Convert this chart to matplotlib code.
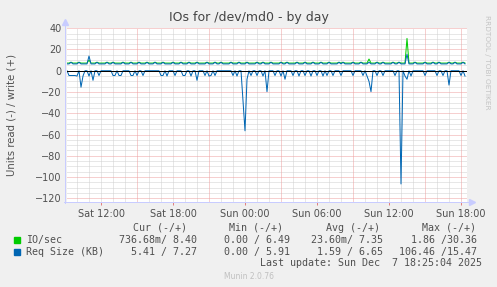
import numpy as np
import matplotlib
matplotlib.use('Agg')
import matplotlib.pyplot as plt

# time is counted in hours from Sat 00:00, points every 10 minutes
start_h = 9 + 10 / 60
end_h = 42 + 25 / 60

tick_hours = [12, 18, 24, 30, 36, 42]
tick_labels = ['Sat 12:00', 'Sat 18:00', 'Sun 00:00', 'Sun 06:00', 'Sun 12:00', 'Sun 18:00']
major_hours = [15, 21, 27, 33, 39, 42]

# write side (+): resting levels, the regular small bumps and the spikes
write_io_level = 7.2
write_kb_level = 6.4
bump_io = 8.0
bump_kb = 7.9
bump_hours = [9.50, 10.17, 11.67, 12.42, 13.08, 13.75, 14.50, 15.17, 15.83, 16.58,
              17.25, 17.92, 18.67, 19.33, 20.00, 20.75, 21.42, 22.08, 22.83, 23.50,
              24.17, 24.92, 25.58, 26.17, 27.00, 27.58, 28.25, 28.92, 29.67, 30.33,
              31.00, 31.75, 32.25, 33.00, 33.67, 35.08, 35.58, 36.33, 36.83, 38.25,
              38.92, 39.67, 40.17, 40.92, 41.58, 42.17]
spike_hours = [10.92, 34.33, 37.58]
spike_io = [10.0, 11.0, 30.4]
spike_kb = [13.8, 8.0, 15.5]

# read side (-): request size dips (KB), IO/sec read stays at ~0
dip_hours = [9.33, 9.50, 9.67, 9.83, 10.00,
             10.25, 10.50, 10.92, 11.33, 11.83, 12.92, 13.17, 13.42, 13.67, 14.42,
             14.67, 15.00, 15.50, 16.92, 17.17, 17.50, 18.17, 18.75, 19.00, 19.58,
             20.00, 20.67, 20.92, 21.25, 21.58, 23.08, 23.33, 23.83, 24.08, 24.25,
             24.58, 25.00, 25.42, 25.83, 26.50, 27.08, 27.25, 27.92, 28.42, 29.00,
             29.42, 30.00, 30.42, 30.83, 31.33, 32.08, 33.00, 33.75, 34.17, 34.33,
             34.50, 35.08, 35.50, 36.50, 37.08, 37.33, 37.58, 37.83, 39.00, 40.00,
             40.50, 40.92, 42.08, 42.33]
dip_kb = [-4.5, -4.5, -4.5, -4.5, -5.0,
          -15.5, -5.0, -5.0, -9.0, -4.5, -4.5, -4.5, -4.5, -4.5, -4.5,
          -4.5, -4.5, -4.5, -4.5, -4.5, -5.0, -4.5, -4.5, -4.5, -5.0,
          -9.0, -4.5, -5.0, -4.5, -4.5, -4.5, -5.0, -27.5, -56.5, -8.0,
          -4.5, -4.5, -5.0, -19.7, -4.5, -5.0, -8.0, -4.5, -5.0, -4.5,
          -5.0, -4.5, -5.0, -4.5, -4.5, -4.5, -4.5, -4.5, -5.0, -10.0,
          -19.7, -4.5, -4.5, -4.5, -106.5, -5.0, -8.0, -5.0, -4.5, -4.5,
          -4.5, -13.5, -4.5, -5.0]

GREEN = '#00cc00'
BLUE = '#0066b3'
TXT = '#505050'

t = np.arange(start_h, end_h + 1e-6, 10 / 60)


def idx(h):
    return min(int(round((h - start_h) * 6)), len(t) - 1)


w_io = np.full(len(t), write_io_level)
w_kb = np.full(len(t), write_kb_level)
for h in bump_hours:
    w_io[idx(h)] = bump_io
    w_kb[idx(h)] = bump_kb
for h, a, b in zip(spike_hours, spike_io, spike_kb):
    w_io[idx(h)] = a
    w_kb[idx(h)] = b
r_io = np.zeros(len(t))
r_kb = np.zeros(len(t))
for h, v in zip(dip_hours, dip_kb):
    r_kb[idx(h)] = min(r_kb[idx(h)], v)

W, H = 497, 287
fig = plt.figure(figsize=(W / 100, H / 100), dpi=100, facecolor='#f0f0f0')
ylo, yhi = -123, 40
ax = fig.add_axes([67 / W, 1 - 201.5 / H, 400 / W, 173.3 / H])
ax.set_facecolor('white')
ax.set_xlim(start_h, end_h + 1 / 12)
ax.set_ylim(ylo, yhi)
for s in ax.spines.values():
    s.set_visible(False)

px = 0.72
dot = (0, (1, 1))
# grid
for y in range(-120, 41, 5):
    if y % 20:
        ax.axhline(y, color='#d0d0d0', lw=px, ls=dot, zorder=1)
for h in range(10, 43):
    if h not in major_hours:
        ax.axvline(h, color='#d0d0d0', lw=px, ls=dot, zorder=1)
for y in range(-120, 41, 20):
    ax.axhline(y, color='#eea0a0', lw=px, ls=dot, zorder=1)
for h in major_hours:
    ax.axvline(h, color='#eea0a0', lw=px, ls=dot, zorder=1)

ax.plot(t, w_io, color=GREEN, lw=px, zorder=3)
ax.plot(t, r_io, color=GREEN, lw=px, zorder=3)
ax.plot(t, w_kb, color=BLUE, lw=px, zorder=4)
ax.plot(t, r_kb, color=BLUE, lw=px, zorder=4)
ax.axhline(0, color='black', lw=px, zorder=5)

# axes lines with arrows
axc = '#c8ccff'
ax.plot([-0.005, -0.005], [-0.01, 1.035], transform=ax.transAxes, color=axc, lw=px, clip_on=False)
ax.plot([-0.008, 1.013], [0, 0], transform=ax.transAxes, color=axc, lw=px, clip_on=False)
ax.plot([-0.005], [1.035], transform=ax.transAxes, marker='^', ms=4, color=axc, clip_on=False)
ax.plot([1.013], [0], transform=ax.transAxes, marker='>', ms=4, color=axc, clip_on=False)

ax.set_xticks(tick_hours)
ax.set_xticklabels(tick_labels)
ax.set_yticks(range(-120, 41, 20))
ax.tick_params(axis='both', labelsize=7, colors=TXT, length=2, width=px)
ax.tick_params(axis='x', pad=3.5, colors='#e08080', labelcolor=TXT)
ax.tick_params(axis='y', pad=4, length=0)
ax.set_ylabel('Units read (-) / write (+)', fontsize=7.3, color=TXT, labelpad=13)

fig.text(0.5, 1 - 18 / H, 'IOs for /dev/md0 - by day', ha='center', va='center',
         fontsize=9, color='#444444')
fig.text(487 / W, 1 - 15 / H, 'RRDTOOL / TOBI OETIKER', rotation=270, ha='center', va='top',
         fontsize=5.3, color='#c4c4c4')

mono = 'DejaVu Sans Mono'
fs = 7.2
heads = ['Cur (-/+)', 'Min (-/+)', 'Avg (-/+)', 'Max (-/+)']
head_x = [187, 283, 380, 476]
val_x = [197, 290, 383, 477]
rows = [('IO/sec', GREEN, ['736.68m/ 8.40', '0.00 / 6.49', '23.60m/ 7.35', '1.86 /30.36']),
        ('Req Size (KB)', BLUE, ['5.41 / 7.27', '0.00 / 5.91', '1.59 / 6.65', '106.46 /15.47'])]
for s, x in zip(heads, head_x):
    fig.text(x / W, 1 - 227.7 / H, s, ha='right', va='center', family=mono, fontsize=fs, color=TXT)
for i, (name, col, vals) in enumerate(rows):
    y = 239.7 + 12 * i
    fig.patches.append(plt.Rectangle((14 / W, 1 - (y + 3) / H), 6 / W, 6 / H,
                                     transform=fig.transFigure, color=col))
    fig.text(26 / W, 1 - y / H, name, ha='left', va='center', family=mono, fontsize=fs, color=TXT)
    for v, x in zip(vals, val_x):
        fig.text(x / W, 1 - y / H, v, ha='right', va='center', family=mono, fontsize=fs, color=TXT)
fig.text(482 / W, 1 - 263.5 / H, 'Last update: Sun Dec  7 18:25:04 2025', ha='right', va='center',
         family=mono, fontsize=fs, color=TXT)
fig.text(0.5, 1 - 276.5 / H, 'Munin 2.0.76', ha='center', va='center', fontsize=5.5, color='#c0c0c0')

fig.savefig('out.png', dpi=100, facecolor=fig.get_facecolor())
